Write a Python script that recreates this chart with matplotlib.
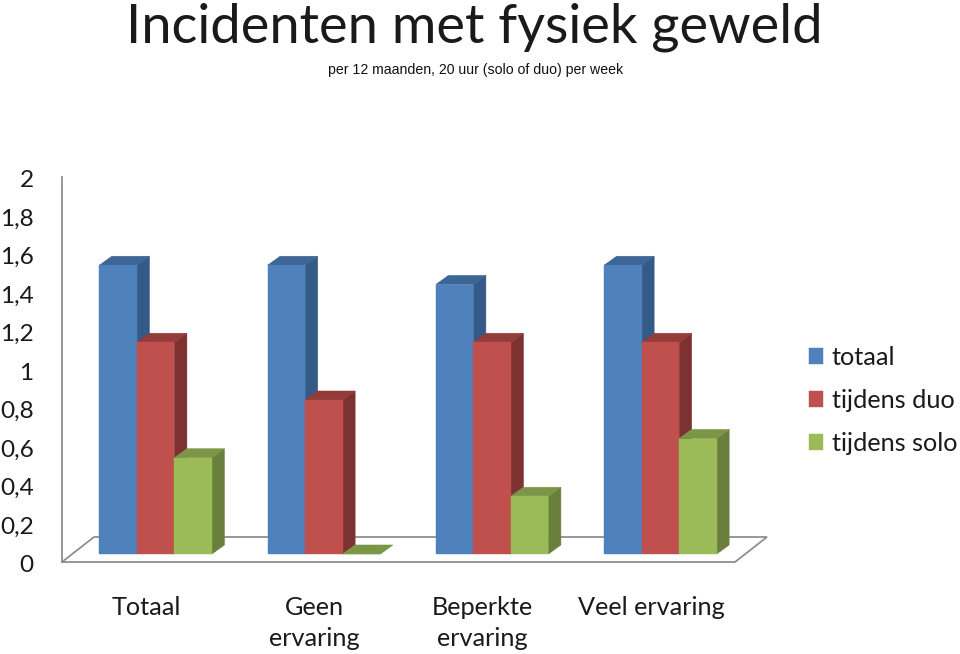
import numpy as np
import matplotlib
matplotlib.use("Agg")
import matplotlib.pyplot as plt
from matplotlib.patches import Polygon
from matplotlib.ticker import FuncFormatter
from matplotlib.transforms import ScaledTranslation

categories = ["Totaal", "Geen\nervaring", "Beperkte\nervaring", "Veel ervaring"]
totaal = [1.5, 1.5, 1.4, 1.5]
duo = [1.1, 0.8, 1.1, 1.1]
solo = [0.5, 0.0, 0.3, 0.6]
series_names = ["totaal", "tijdens duo", "tijdens solo"]

# front, top, side colours per series
front_colors = ["#4f81bd", "#c0504d", "#9bbb59"]
top_colors = ["#3d6596", "#943c3a", "#7b9646"]
side_colors = ["#345a88", "#7d3231", "#6a7f3c"]
GREY = "#8f8f8f"
TEXT = "#1a1a1a"
W, H = 960, 654

plt.rcParams["font.family"] = ["Lato", "DejaVu Sans"]
fig = plt.figure(figsize=(W / 100, H / 100), dpi=100)

# axes box in pixels: x 62..735, y 177..562 (value 0..2)
ax = fig.add_axes([62 / W, 1 - 562 / H, 673 / W, 385 / H])
ax.set_xlim(0, 4)
ax.set_ylim(0, 2)
ax.patch.set_alpha(0)
for s in ["top", "right", "bottom"]:
    ax.spines[s].set_visible(False)
ax.spines["left"].set_color(GREY)
ax.spines["left"].set_linewidth(1.3)

# one pixel in data units
px = 4 / 673
py = 2 / 385
depth_x, depth_y = 12.5 * px, 9 * py
base = 8 * py
shift = 9.5 * px
width = 37.5 * px

# floor
fd_x, fd_y = 32 * px, 25 * py
ax.plot([0, 4, 4 + fd_x, fd_x, 0], [0, 0, fd_y, fd_y, 0], color=GREY, lw=1.3,
        clip_on=False, zorder=1, solid_joinstyle="miter")

handles = []
for g in range(len(categories)):
    for k, vals in enumerate([totaal, duo, solo]):
        v = vals[g]
        left = g + 0.5 + shift + (k - 1.5) * width
        right = left + width
        z = 2 + g + k * 0.1
        top = base + v
        ax.add_patch(Polygon([(right, base), (right + depth_x, base + depth_y),
                              (right + depth_x, top + depth_y), (right, top)],
                             fc=side_colors[k], ec=side_colors[k], lw=0.4, clip_on=False, zorder=z))
        ax.add_patch(Polygon([(left, top), (left + depth_x, top + depth_y),
                              (right + depth_x, top + depth_y), (right, top)],
                             fc=top_colors[k], ec=top_colors[k], lw=0.4, clip_on=False, zorder=z))
        bar = ax.bar(left, v, width=width, bottom=base, align="edge", color=front_colors[k],
                     edgecolor=front_colors[k], lw=0.3, clip_on=False, zorder=z + 0.01)
        if g == 0:
            handles.append(bar[0])

ax.set_yticks(np.arange(0, 2.01, 0.2))
ax.yaxis.set_major_formatter(FuncFormatter(lambda v, _: f"{v:.1f}".replace(".", ",").replace(",0", "")))
ax.tick_params(axis="y", length=0, pad=20.5, labelsize=17.6, labelcolor=TEXT)
for lab in ax.get_yticklabels():
    lab.set_transform(lab.get_transform() + ScaledTranslation(0, -1.5 / 100, fig.dpi_scale_trans))
ax.set_xticks(np.arange(4) + 0.5)
ax.set_xticklabels(categories, linespacing=1.42)
ax.tick_params(axis="x", length=0, pad=24.3, labelsize=18.2, labelcolor=TEXT)

fig.legend(handles, series_names, loc="upper left", bbox_to_anchor=(801 / W, 1 - 338 / H),
           frameon=False, fontsize=18.2, handlelength=0.59, handleheight=0.59,
           handletextpad=0.33, labelspacing=0.79, borderpad=0.3, labelcolor=TEXT,
           borderaxespad=0)

fig.text(474 / W, 1 - 43 / H, "Incidenten met fysiek geweld", ha="center", va="baseline",
         fontsize=39, color=TEXT)
fig.text(476 / W, 1 - 70 / H, "per 12 maanden, 20 uur (solo of duo) per week", ha="center",
         va="center", fontsize=10.2, color="#111111", family="Liberation Sans")

fig.savefig("out.png", dpi=100)
